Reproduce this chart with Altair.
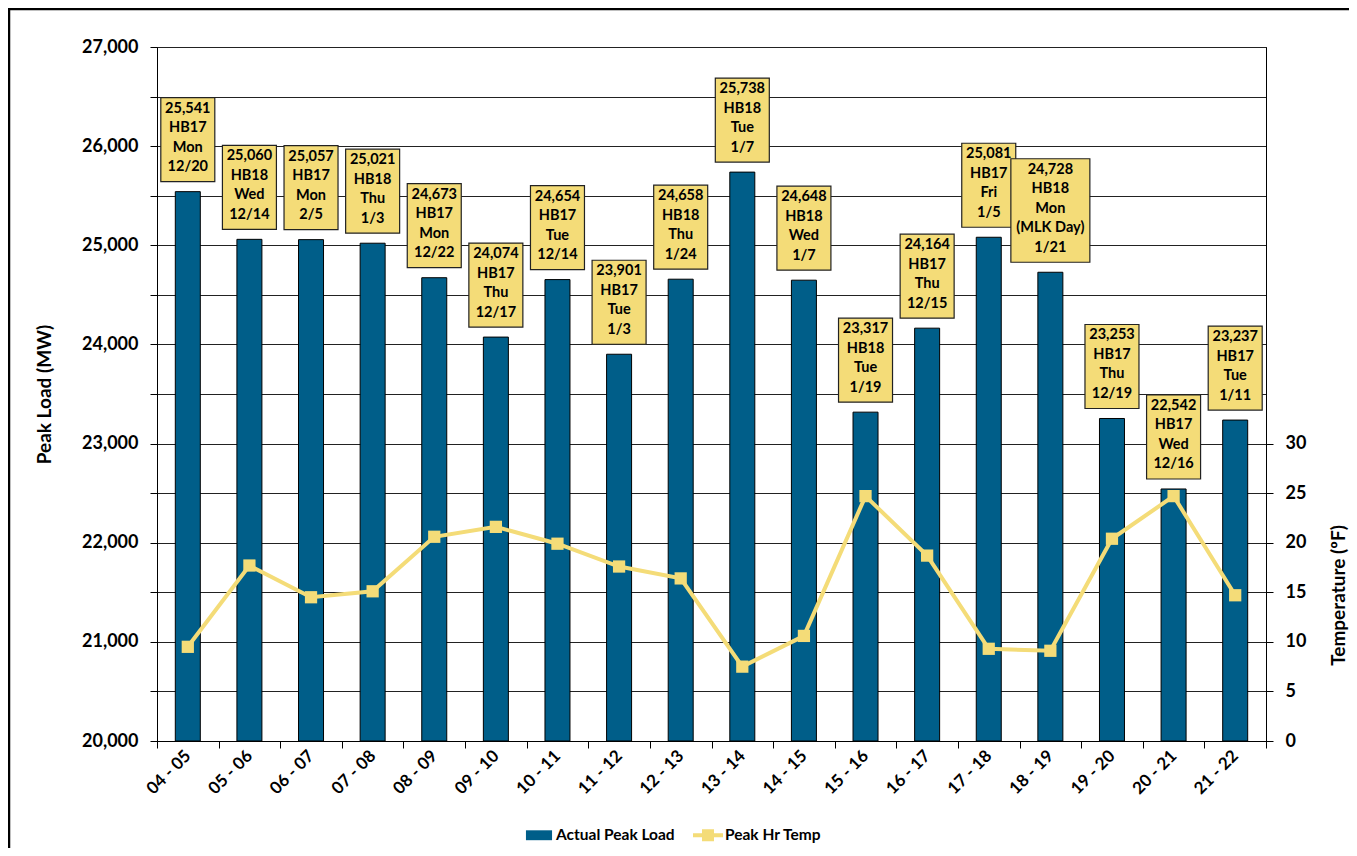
import altair as alt
import pandas as pd

seasons = ["04 - 05", "05 - 06", "06 - 07", "07 - 08", "08 - 09", "09 - 10", "10 - 11", "11 - 12", "12 - 13",
           "13 - 14", "14 - 15", "15 - 16", "16 - 17", "17 - 18", "18 - 19", "19 - 20", "20 - 21", "21 - 22"]
loads = [25541, 25060, 25057, 25021, 24673, 24074, 24654, 23901, 24658,
         25738, 24648, 23317, 24164, 25081, 24728, 23253, 22542, 23237]
hubs = ["HB17", "HB18", "HB17", "HB18", "HB17", "HB17", "HB17", "HB17", "HB18",
        "HB18", "HB18", "HB18", "HB17", "HB17", "HB18", "HB17", "HB17", "HB17"]
days = ["Mon", "Wed", "Mon", "Thu", "Mon", "Thu", "Tue", "Tue", "Thu",
        "Tue", "Wed", "Tue", "Thu", "Fri", "Mon", "Thu", "Wed", "Tue"]
notes = ["", "", "", "", "", "", "", "", "", "", "", "", "", "", "(MLK Day)", "", "", ""]
dates = ["12/20", "12/14", "2/5", "1/3", "12/22", "12/17", "12/14", "1/3", "1/24",
         "1/7", "1/7", "1/19", "12/15", "1/5", "1/21", "12/19", "12/16", "1/11"]
temps = [9.5, 17.7, 14.5, 15.1, 20.6, 21.6, 19.9, 17.6, 16.4,
         7.5, 10.6, 24.7, 18.7, 9.3, 9.1, 20.4, 24.7, 14.7]
series_names = ["Actual Peak Load", "Peak Hr Temp"]

BAR = "#005E89"
YEL = "#F4DC78"
FONT = "Lato"
W, H = 1109, 694
YMIN, YMAX = 20000, 27000
MW_PER_PX = (YMAX - YMIN) / H
GAP_PX = 10
LINE_PX = 19.5

rows = []
for s, l, hb, d, n, dt, t in zip(seasons, loads, hubs, days, notes, dates, temps):
    lines = [f"{l:,}", hb, d] + ([n] if n else []) + [dt]
    nl = len(lines)
    lo = l + GAP_PX * MW_PER_PX
    hi = lo + (nl * LINE_PX + 6) * MW_PER_PX
    rows.append(dict(season=s, load=l, temp=t, label="\n".join(lines),
                     nlines=nl, box_lo=lo, box_hi=hi, base=YMIN))
df = pd.DataFrame(rows)

x_enc = alt.X("season:N", sort=seasons, title=None,
              axis=alt.Axis(labelAngle=-45, labelAlign="right", labelBaseline="middle",
                            tickBand="extent", tickSize=7, labelPadding=5,
                            labelFont=FONT, labelFontSize=17, labelFontWeight="bold",
                            labelColor="black", domainColor="black", tickColor="black"),
              scale=alt.Scale(paddingInner=0, paddingOuter=0))

yleft = alt.Scale(domain=[YMIN, YMAX], zero=False, nice=False)
left_vals = list(range(YMIN, YMAX + 1, 500))

base = alt.Chart(df)

bars = base.mark_bar(width=25, color=BAR, stroke="black", strokeWidth=1).encode(
    x=x_enc,
    y=alt.Y("load:Q", scale=yleft, title="Peak Load (MW)",
            axis=alt.Axis(values=left_vals,
                          labelExpr="datum.value % 1000 == 0 ? format(datum.value, ',') : ''",
                          grid=True, gridColor="#222222", gridWidth=1, tickSize=7,
                          labelPadding=12, titlePadding=27,
                          labelFont=FONT, labelFontSize=18, labelFontWeight="bold",
                          titleFont=FONT, titleFontSize=19, titleFontWeight="bold",
                          labelColor="black", titleColor="black",
                          domainColor="black", tickColor="black")),
    y2=alt.Y2("base:Q"),
)

boxes_std = base.transform_filter("datum.nlines == 4").mark_bar(
    width=54, color=YEL, stroke="#222222", strokeWidth=1.2).encode(
    x=alt.X("season:N", sort=seasons),
    y=alt.Y("box_lo:Q", scale=yleft),
    y2="box_hi:Q",
)
boxes_wide = base.transform_filter("datum.nlines == 5").mark_bar(
    width=79, color=YEL, stroke="#222222", strokeWidth=1.2).encode(
    x=alt.X("season:N", sort=seasons),
    y=alt.Y("box_lo:Q", scale=yleft),
    y2="box_hi:Q",
)
texts = base.mark_text(lineBreak="\n", lineHeight=LINE_PX, baseline="top", dy=4,
                       font=FONT, fontSize=14.5, fontWeight="bold", color="black").encode(
    x=alt.X("season:N", sort=seasons),
    y=alt.Y("box_hi:Q", scale=yleft),
    text="label:N",
)

left_layer = alt.layer(bars, boxes_std, boxes_wide, texts)

line = base.mark_line(color=YEL, strokeWidth=4,
                      point=alt.OverlayMarkDef(shape="square", size=150, filled=True, color=YEL, opacity=1)).encode(
    x=alt.X("season:N", sort=seasons),
    y=alt.Y("temp:Q", scale=alt.Scale(domain=[0, 70], nice=False), title="Temperature (ºF)",
            axis=alt.Axis(orient="right", values=[0, 5, 10, 15, 20, 25, 30], grid=False,
                          tickSize=7, labelPadding=12,
                          titleAngle=270, titleX=72, titleY=548,
                          titleAlign="center", titleBaseline="middle",
                          labelFont=FONT, labelFontSize=18, labelFontWeight="bold",
                          titleFont=FONT, titleFontSize=19, titleFontWeight="bold",
                          labelColor="black", titleColor="black",
                          domainColor="black", tickColor="black")),
)

legend_df = pd.DataFrame({"series": series_names})
legend_layer = alt.Chart(legend_df).mark_point(opacity=0, filled=True).encode(
    color=alt.Color("series:N", sort=series_names,
                    scale=alt.Scale(domain=series_names, range=[BAR, YEL]),
                    legend=alt.Legend(title=None, orient="none", legendX=367, legendY=773,
                                      direction="horizontal", symbolSize=900, symbolOpacity=1,
                                      symbolStrokeWidth=0, columnPadding=18, labelOffset=2,
                                      labelFont=FONT, labelFontSize=15.5, labelFontWeight="bold",
                                      labelColor="black")),
    shape=alt.Shape("series:N", sort=series_names,
                    scale=alt.Scale(domain=series_names,
                                    range=["M-0.87,-0.33H0.87V0.33H-0.87Z",
                                           "M-1,-0.13H1V0.13H-1Z M-0.4,-0.4H0.4V0.4H-0.4Z"]),
                    legend=None),
)

frame = alt.Chart(pd.DataFrame({"k": [0]})).mark_rect(
    fill=None, stroke="black", strokeWidth=2.5, clip=False).encode(
    x=alt.value(-148), x2=alt.value(W + 120), y=alt.value(-38), y2=alt.value(H + 140))

chart = alt.layer(left_layer, line, legend_layer, frame).resolve_scale(
    y="independent"
).properties(
    width=W, height=H,
    autosize=alt.AutoSizeParams(type="none"),
    padding={"left": 149, "top": 39, "right": 83, "bottom": 107},
    background="white",
).configure_view(
    fill="#CCCCCC", stroke="#222222", strokeWidth=1
)

chart.save("out.html", embed_options={"renderer": "svg", "actions": False})
